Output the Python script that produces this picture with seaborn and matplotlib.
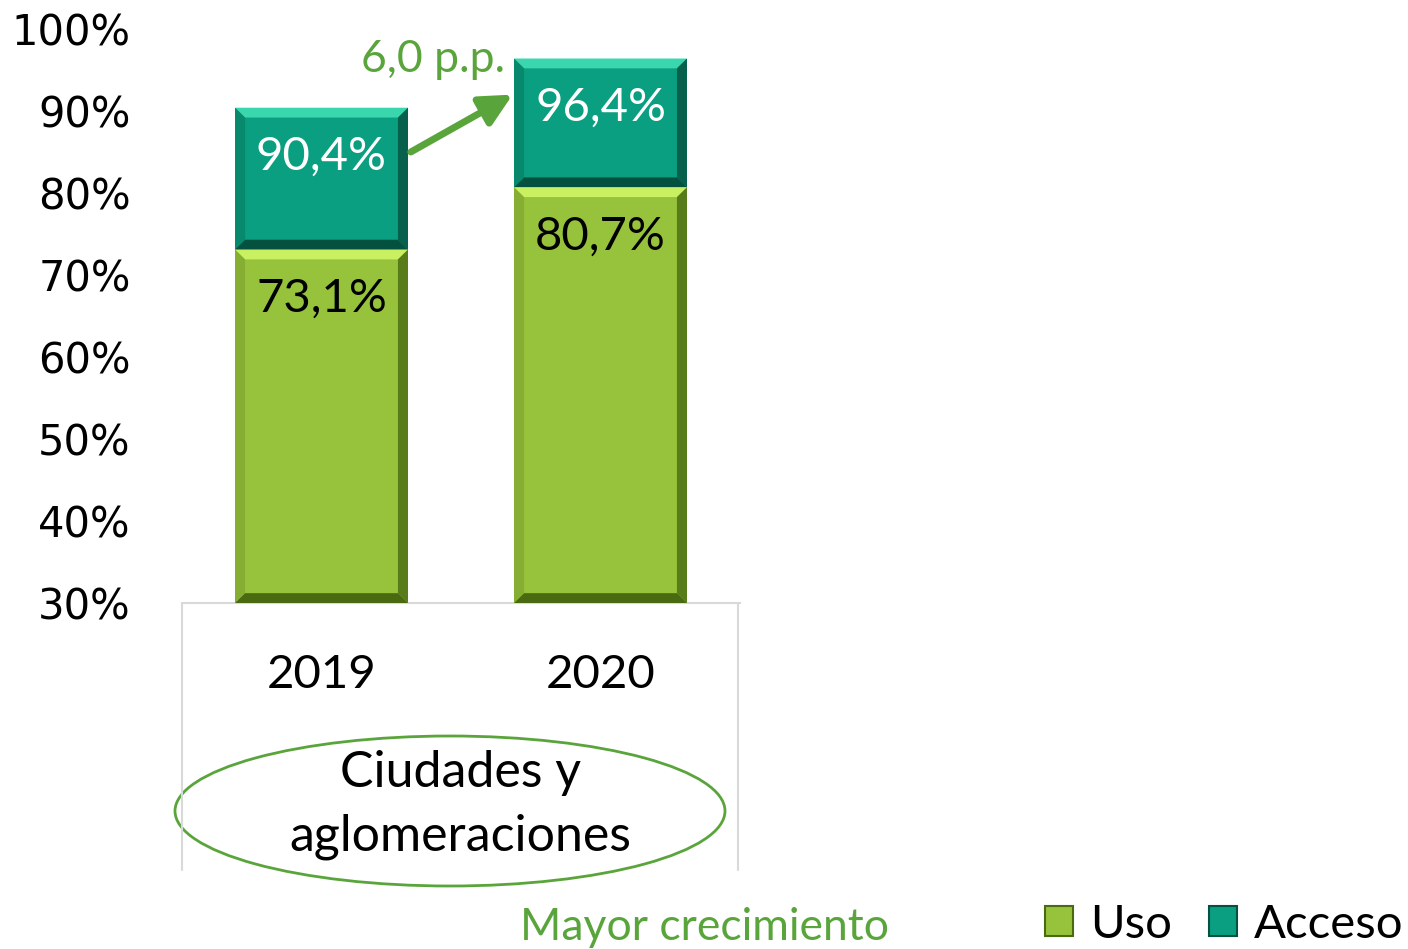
import matplotlib
matplotlib.use("Agg")
import matplotlib.pyplot as plt
import seaborn as sns
import pandas as pd
from matplotlib.patches import Polygon, Ellipse, Patch
from matplotlib.lines import Line2D

years = ["2019", "2020"]
uso = [73.1, 80.7]
acceso = [90.4, 96.4]
uso_labels = ["73,1%", "80,7%"]
acceso_labels = ["90,4%", "96,4%"]
yticks = [30, 40, 50, 60, 70, 80, 90, 100]
ytick_labels = ["30%", "40%", "50%", "60%", "70%", "80%", "90%", "100%"]
group_label = "Ciudades y\naglomeraciones"
delta_label = "6,0 p.p."
note_label = "Mayor crecimiento"

C_USO = "#96c33b"
C_ACC = "#0a9f80"
C_GREEN = "#5aa53b"
TXT = "Lato"

sns.set_theme(style="white")
plt.rcParams["font.family"] = ["DejaVu Sans"]
plt.rcParams["text.color"] = "black"
plt.rcParams["xtick.color"] = "black"
plt.rcParams["ytick.color"] = "black"

df = pd.DataFrame({"year": years, "uso": uso, "acceso": acceso})

fig = plt.figure(figsize=(14.08, 9.49), dpi=100)
ax = fig.add_axes([182/1408, 1-603/949, (740-182)/1408, (603-29)/949])

W = 0.62
sns.barplot(data=df, x="year", y="acceso", color=C_ACC, width=W, ax=ax,
            saturation=1, edgecolor="none", zorder=2)
sns.barplot(data=df, x="year", y="uso", color=C_USO, width=W, ax=ax,
            saturation=1, edgecolor="none", zorder=3)
ax.set_ylim(30, 100)
ax.set_xlim(-0.5, 1.5)

def bevel(x0, x1, y0, y1, light, dark, mid_dark):
    bx = 0.036
    by = 1.2
    ax.add_patch(Polygon([(x0, y1), (x1, y1), (x1-bx, y1-by), (x0+bx, y1-by)],
                         closed=True, fc=light, ec="none", zorder=4))
    ax.add_patch(Polygon([(x0, y0), (x1, y0), (x1-bx, y0+by), (x0+bx, y0+by)],
                         closed=True, fc=dark, ec="none", zorder=4))
    ax.add_patch(Polygon([(x0, y0), (x0, y1), (x0+bx, y1-by), (x0+bx, y0+by)],
                         closed=True, fc=mid_dark, ec="none", zorder=4, alpha=0.6))
    ax.add_patch(Polygon([(x1, y0), (x1, y1), (x1-bx, y1-by), (x1-bx, y0+by)],
                         closed=True, fc=dark, ec="none", zorder=4, alpha=0.8))

for i in range(len(years)):
    x0, x1 = i - W/2, i + W/2
    bevel(x0, x1, uso[i], acceso[i], "#3ad6ad", "#05513f", "#077a60")
    bevel(x0, x1, 30, uso[i], "#c8f060", "#4a6a12", "#7aa02c")
    ax.text(i, acceso[i] - 6, acceso_labels[i], ha="center", va="center",
            color="white", fontsize=34, family=TXT, zorder=5)
    ax.text(i, uso[i] - 6, uso_labels[i], ha="center", va="center",
            color="black", fontsize=34, family=TXT, zorder=5)

ax.set_yticks(yticks)
ax.set_yticklabels(ytick_labels, fontsize=30)
ax.set_xticks([0, 1])
ax.set_xticklabels(years, fontsize=34, family=TXT)
ax.tick_params(axis="x", length=0, pad=37)
ax.tick_params(axis="y", length=0, pad=37)
ax.set_xlabel("")
ax.set_ylabel("")
for s in ["left", "right", "top"]:
    ax.spines[s].set_visible(False)
ax.spines["bottom"].set_color("#d9d9d9")
ax.spines["bottom"].set_linewidth(1.5)
ax.grid(False)

for xp in (182, 738):
    fig.add_artist(Line2D([xp/1408, xp/1408], [1-603/949, 1-870/949],
                          color="#d9d9d9", lw=1.5))

fig.text(460/1408, 1-805/949, group_label, ha="center", va="center",
         fontsize=36, family=TXT, color="black", linespacing=1.5)
fig.add_artist(Ellipse((450/1408, 1-811/949), 550/1408, 150/949,
                       fc="none", ec=C_GREEN, lw=2, transform=fig.transFigure))

ax.annotate("", xy=(1 - W/2 - 0.005, 92.0), xytext=(0 + W/2 + 0.01, 85.0),
            arrowprops=dict(arrowstyle="-|>,head_length=1.6,head_width=0.8",
                            color=C_GREEN, lw=5, shrinkA=0, shrinkB=0), zorder=6)
fig.text(433/1408, 1-60/949, delta_label, ha="center", va="center",
         fontsize=32, family=TXT, color=C_GREEN)

fig.text(520/1408, 1-928/949, note_label, ha="left", va="center",
         fontsize=32, family=TXT, color=C_GREEN)

handles = [Patch(fc=C_USO, ec="#4a6a12", lw=1.5), Patch(fc=C_ACC, ec="#05513f", lw=1.5)]
leg = fig.legend(handles, ["Uso", "Acceso"], loc="center right",
                 bbox_to_anchor=(1403/1408, 1-925/949), ncol=2, frameon=False,
                 prop={"family": TXT, "size": 34}, handlelength=0.6,
                 handleheight=0.6, handletextpad=0.35, columnspacing=0.78,
                 borderpad=0, borderaxespad=0)

fig.savefig("out.png", dpi=100)
